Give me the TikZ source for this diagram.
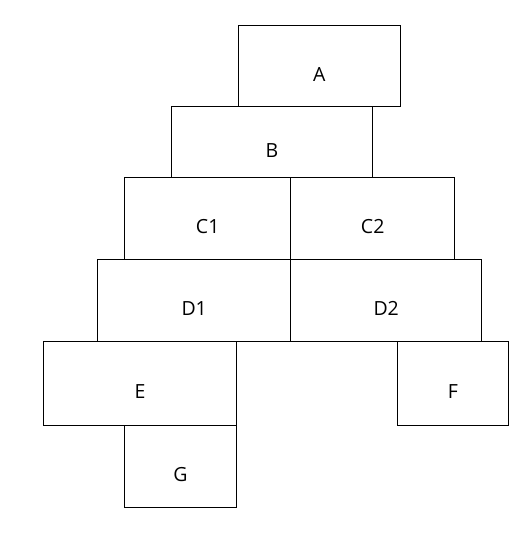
\documentclass[tikz,border=0pt]{standalone}
\usepackage{fontspec}
\setmainfont{Open Sans}
\usepackage{tikz}
\tikzset{
  blk/.style={draw, line width=0.9pt, inner sep=0pt, outer sep=0pt, anchor=north west},
  lbl/.style={label={[yshift=-8.5pt, inner sep=0pt, font=\fontsize{19.5}{19.5}\selectfont]center:#1}},
}

\begin{document}
\begin{tikzpicture}[x=1pt, y=-1pt]
  \useasboundingbox (0,0) rectangle (516,538);
  \node[blk, minimum width=162pt, minimum height=81.7pt, lbl=A] (a) at (238.3,25) {};
  \node[blk, minimum width=201.4pt, minimum height=71pt, lbl=B] (b) at (171.3,106.7) {};
  \node[blk, minimum width=166pt, minimum height=81.6pt, lbl=C1] (c1) at (124.7,177.7) {};
  \node[blk, minimum width=164pt, minimum height=81.6pt, lbl=C2] (c2) at (290.7,177.7) {};
  \node[blk, minimum width=193pt, minimum height=81.7pt, lbl=D1] (d1) at (97.7,259.3) {};
  \node[blk, minimum width=191pt, minimum height=81.7pt, lbl=D2] (d2) at (290.7,259.3) {};
  \node[blk, minimum width=192.6pt, minimum height=84pt, lbl=E] (e) at (43.7,341) {};
  \node[blk, minimum width=111pt, minimum height=84pt, lbl=F] (f) at (397.3,341) {};
  \node[blk, minimum width=111.6pt, minimum height=82pt, lbl=G] (g) at (124.7,425) {};
\end{tikzpicture}
\end{document}
